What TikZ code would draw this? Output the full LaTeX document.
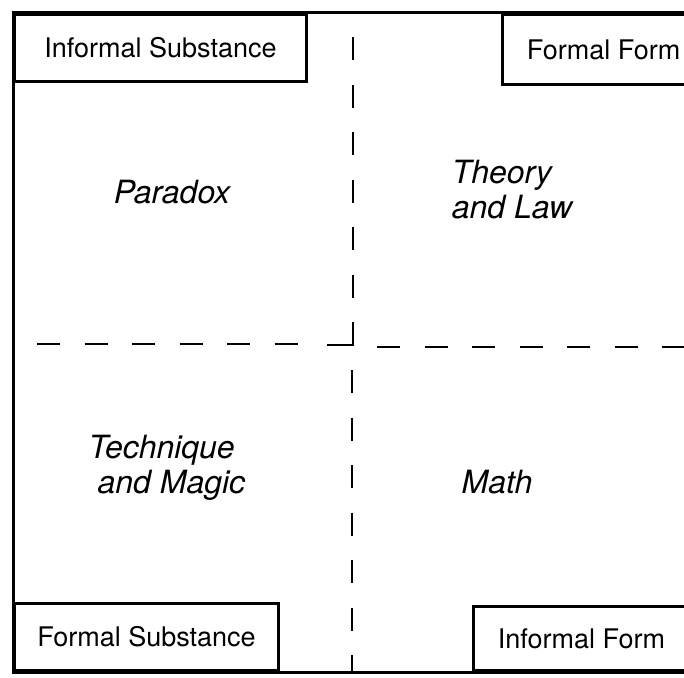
\documentclass[tikz,border=0pt]{standalone}
\usepackage{fontspec}
\setmainfont{TeX Gyre Heros}
\usetikzlibrary{positioning}
\tikzset{
	framebox/.style={
			draw=black,
			line width=3pt,
			fill=white,
			inner sep=0pt,
			font=\fontsize{27}{30}\selectfont
		},
	quadlabel/.style={
			align=left,
			inner sep=0pt,
			font=\fontsize{32}{35}\selectfont\itshape
		},
	splitline/.style={
			line width=2.2pt,
			dash pattern=on 23pt off 24.5pt
		}
}

\begin{document}
\begin{tikzpicture}[x=1pt, y=-1pt]
\useasboundingbox (0,0) rectangle (684,677);
\clip (0,0) rectangle (684,677);

% outer frame
\draw[line width=3pt] (720,13) -- (13,13) -- (13,672) -- (720,672);

% corner boxes
\node[framebox, anchor=north west, minimum width=292, minimum height=67] (infsub) at (13,13) {Informal Substance\hspace{10pt}};
\node[framebox, anchor=north west, minimum width=202, minimum height=70] (formform) at (501,13) {Formal Form};
\node[framebox, anchor=south west, minimum width=264, minimum height=67] (formsub) at (13,672) {Formal Substance};
\node[framebox, anchor=south west, minimum width=216, minimum height=64] (infform) at (472,672) {Informal Form};

% dashed split
\coordinate (vtop) at (353,37);
\coordinate (vmid) at (353,322);
\coordinate (corner) at (353,345);
\coordinate (cleft) at (327,345);
\coordinate (hleft) at (37,344);
\coordinate (hleftend) at (300,344);
\coordinate (hright) at (377,347);
\coordinate (hrightend) at (700,347);
\coordinate (vlow) at (352,370);
\coordinate (vbot) at (352,672);

\draw[splitline] (vtop) -- (vmid);
\draw[line width=2.2pt] (vmid) -- (corner) -- (cleft);
\draw[splitline] (hleft) -- (hleftend);
\draw[splitline] (hright) -- (hrightend);
\draw[splitline] (vlow) -- (vbot);

% quadrant labels
\node[quadlabel] (paradox) at (172,192) {Paradox};
\node[quadlabel] (theory) at (512,190) {Theory\\and Law};
\node[quadlabel] (technique) at (167,468) {Technique\\\ and Magic};
\node[quadlabel] (math) at (497,482) {Math};

\end{tikzpicture}
\end{document}
